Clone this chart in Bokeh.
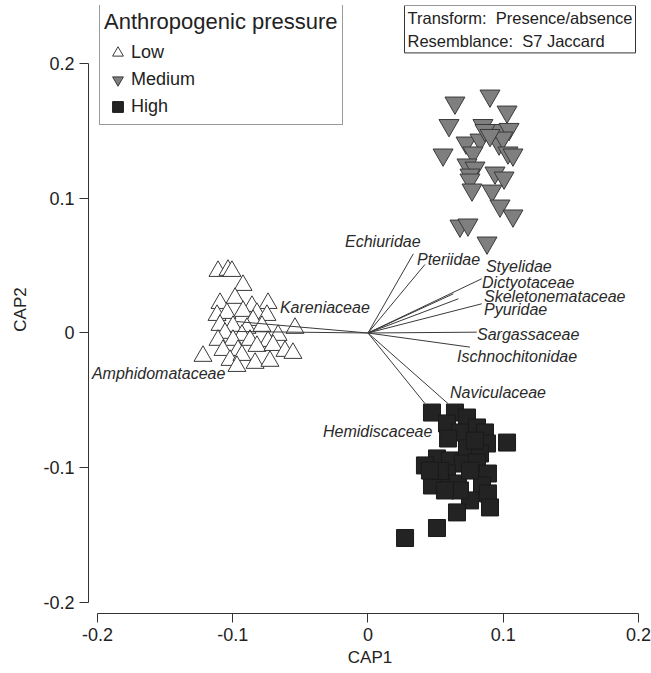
from bokeh.plotting import figure
from bokeh.models import Range1d, FixedTicker, Legend, LegendItem, Label, ColumnDataSource
from bokeh.core.properties import value
from bokeh.embed import file_html
from bokeh.resources import INLINE

FONT = "Liberation Sans"

# ---- data ----
low_x = [-0.1109, -0.1035, -0.1006, -0.0924, -0.1094, -0.0983, -0.0858, -0.0739, -0.0924, -0.1116,
         -0.1043, -0.0821, -0.0747, -0.0850, -0.1094, -0.0998, -0.0895, -0.0784, -0.1057, -0.0932,
         -0.0665, -0.0540, -0.1109, -0.0998, -0.0872, -0.0739, -0.1072, -0.0961, -0.0821, -0.0702,
         -0.0614, -0.0555, -0.1020, -0.0932, -0.0835, -0.0725, -0.1220, -0.0969]
low_y = [0.0459, 0.0467, 0.0459, 0.0355, 0.0221, 0.0259, 0.0199, 0.0221, 0.0162, 0.0132,
         0.0147, 0.0147, 0.0132, 0.0095, 0.0058, 0.0051, 0.0036, 0.0051, -0.0001, -0.0016,
         -0.0016, 0.0036, -0.0053, -0.0053, -0.0053, -0.0061, -0.0128, -0.0128, -0.0098, -0.0091,
         -0.0135, -0.0150, -0.0202, -0.0165, -0.0224, -0.0209, -0.0172, -0.0247]

med_x = [0.0643, 0.0902, 0.1028, 0.0599, 0.0850, 0.0961, 0.1043, 0.0725, 0.0828, 0.0969,
         0.0998, 0.0555, 0.0776, 0.1035, 0.1072, 0.0732, 0.0791, 0.0939, 0.0754, 0.1006,
         0.0754, 0.0769, 0.0917, 0.0976, 0.1072, 0.0680, 0.0739, 0.0880, 0.0865, 0.0902]
med_y = [0.1710, 0.1762, 0.1643, 0.1543, 0.1543, 0.1506, 0.1514, 0.1413, 0.1435, 0.1406,
         0.1450, 0.1324, 0.1339, 0.1339, 0.1324, 0.1250, 0.1227, 0.1190, 0.1175, 0.1153,
         0.1138, 0.1064, 0.1056, 0.0945, 0.0871, 0.0796, 0.0804, 0.0670, 0.1506, 0.1469]

high_x = [0.0473, 0.0643, 0.0732, 0.0584, 0.0806, 0.0680, 0.0865, 0.0592, 0.0880, 0.1028,
          0.0732, 0.0828, 0.0510, 0.0421, 0.0606, 0.0702, 0.0806, 0.0887, 0.0584, 0.0473,
          0.0665, 0.0843, 0.0887, 0.0754, 0.0658, 0.0902, 0.0510, 0.0274, 0.0532, 0.0754,
          0.0680, 0.0569, 0.0458, 0.0791]
high_y = [-0.0591, -0.0591, -0.0628, -0.0672, -0.0702, -0.0739, -0.0739, -0.0784, -0.0821, -0.0814,
          -0.0858, -0.0895, -0.0932, -0.0984, -0.0947, -0.0970, -0.0962, -0.1044, -0.1044, -0.1133,
          -0.1118, -0.1133, -0.1192, -0.1244, -0.1333, -0.1296, -0.1449, -0.1523, -0.1025, -0.1022,
          -0.1170, -0.1170, -0.1022, -0.0799]

vec_names = ["Echiuridae", "Pteriidae", "Styelidae", "Dictyotaceae", "Skeletonemataceae", "Pyuridae",
             "Sargassaceae", "Ischnochitonidae", "Naviculaceae", "Hemidiscaceae", "Kareniaceae",
             "Amphidomataceae"]
vec_x = [0.0335, 0.0421, 0.0631, 0.0841, 0.0668, 0.0841, 0.0804, 0.0754, 0.0591, 0.0421, -0.0969, -0.0969]
vec_y = [0.0588, 0.0509, 0.0291, 0.0403, 0.0254, 0.0217, 0.0006, -0.0105, -0.0524, -0.0524, 0.0085, 0.0011]
label_x = [-0.0170, 0.0362, 0.0872, 0.0843, 0.0858, 0.0858, 0.0806, 0.0658, 0.0606, -0.0333, -0.0651, -0.2041]
label_y = [0.0680, 0.0546, 0.0494, 0.0375, 0.0271, 0.0175, -0.0011, -0.0175, -0.0442, -0.0732, 0.0189, -0.0301]

groups = ["Low", "Medium", "High"]
tick_values = [-0.2, -0.1, 0, 0.1, 0.2]
tick_labels = ["-0.2", "-0.1", "0", "0.1", "0.2"]
legend_title = "Anthropogenic pressure"
info_text = "Transform: \u00a0Presence/absence\nResemblance: \u00a0S7 Jaccard"

# ---- figure ----
p = figure(width=651, height=672, output_backend="svg", toolbar_location=None,
           x_range=Range1d(-0.20665, 0.20961), y_range=Range1d(-0.20840, 0.24331),
           min_border_left=88, min_border_right=0, min_border_top=5, min_border_bottom=59,
           x_axis_label="CAP1", y_axis_label="CAP2")
p.outline_line_color = None
p.grid.visible = False
p.background_fill_color = "white"

for ax in (p.xaxis[0], p.yaxis[0]):
    ax.ticker = FixedTicker(ticks=tick_values)
    ax.major_label_overrides = dict(zip(tick_values, tick_labels))
    ax.bounds = (-0.2, 0.2)
    ax.minor_tick_line_color = None
    ax.major_tick_in = 0
    ax.major_tick_out = 9
    ax.axis_line_color = "#333333"
    ax.major_tick_line_color = "#333333"
    ax.major_label_text_font = FONT
    ax.major_label_text_font_size = "18px"
    ax.major_label_text_color = "#222222"
    ax.axis_label_text_font = FONT
    ax.axis_label_text_font_size = "17px"
    ax.axis_label_text_font_style = "normal"
    ax.axis_label_text_color = "#222222"
p.xaxis[0].major_label_standoff = 5
p.xaxis[0].axis_label_standoff = 4
p.yaxis[0].major_label_standoff = 5
p.yaxis[0].axis_label_standoff = 10

r_low = p.scatter(low_x, low_y, marker="triangle", size=18, fill_color="white",
                  line_color="#3a3a3a", line_width=1)
r_med = p.scatter(med_x, med_y, marker="inverted_triangle", size=20, fill_color="#7f7f7f",
                  line_color="#3a3a3a", line_width=1)
r_high = p.scatter(high_x, high_y, marker="square", size=17, fill_color="#232323",
                   line_color="#1a1a1a", line_width=1)

vsrc = ColumnDataSource(dict(x0=[0.0] * len(vec_x), y0=[0.0] * len(vec_y), x1=vec_x, y1=vec_y,
                             lx=label_x, ly=label_y, name=vec_names))
p.segment(x0="x0", y0="y0", x1="x1", y1="y1", source=vsrc, line_color="#3a3a3a", line_width=1)
p.text(x="lx", y="ly", text="name", source=vsrc, text_font=value(FONT), text_font_style="italic",
       text_font_size="16px", text_color="#2a2a2a", text_align="left", text_baseline="middle")

legend = Legend(items=[LegendItem(label=g, renderers=[r]) for g, r in zip(groups, [r_low, r_med, r_high])],
                title=legend_title, location=(11, 488),
                title_text_font=FONT, title_text_font_size="22px", title_text_font_style="normal",
                title_text_color="#222222", title_standoff=4,
                label_text_font=FONT, label_text_font_size="18px", label_text_color="#222222",
                padding=4, margin=0, spacing=0, glyph_width=27, glyph_height=27, label_standoff=0,
                border_line_color="#333333", border_line_width=1, background_fill_color="white",
                background_fill_alpha=1.0)
p.add_layout(legend)

info = Label(x=0.0270, y=0.2433, text=info_text, text_font=FONT, text_font_size="16.5px",
             text_color="#222222", text_align="left", text_baseline="top", text_line_height=1.3,
             border_line_color="#333333", border_line_width=1, background_fill_color="white",
             padding=3)
p.add_layout(info)

open("out.html", "w").write(file_html(p, INLINE))
